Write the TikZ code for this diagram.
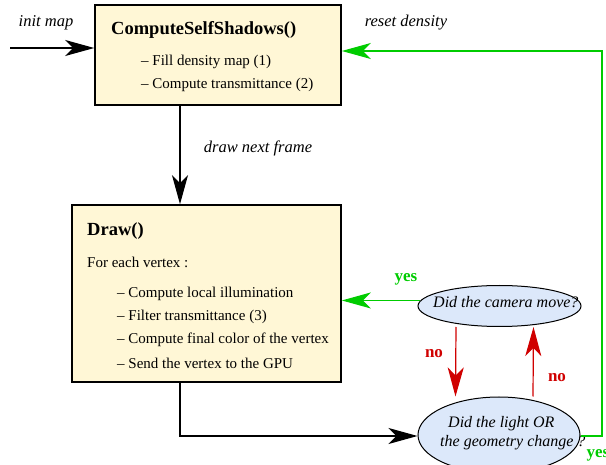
\documentclass[tikz,border=0pt]{standalone}
\usepackage{fontspec}
\setmainfont{Liberation Serif}
\usetikzlibrary{arrows.meta,shapes.geometric}
\definecolor{boxfill}{HTML}{FFF7D6}
\definecolor{ellfill}{HTML}{DCE8FA}
\definecolor{grn}{HTML}{00CC00}
\definecolor{rd}{HTML}{D00000}
\tikzset{
  x=1pt,y=-1pt,
  procbox/.style={draw=black,line width=1.6pt,fill=boxfill,inner sep=0pt},
  question/.style={draw=black,line width=1pt,fill=ellfill,ellipse,inner sep=0pt},
  qtext/.style={anchor=west,inner sep=0pt,font=\fontsize{16}{19}\selectfont\itshape},
  bigarrow/.style={-{Stealth[length=29pt,width=16pt,inset=8pt]},line width=1.2pt},
  lbl/.style={inner sep=0pt,font=\fontsize{16.5}{19}\selectfont\itshape},
  ans/.style={inner sep=0pt,font=\fontsize{17}{20}\selectfont\bfseries},
  body/.style={anchor=west,inner sep=0pt,font=\fontsize{15}{18}\selectfont},
  title/.style={anchor=west,inner sep=0pt,font=\fontsize{18.5}{22}\selectfont\bfseries},
}
\begin{document}
\begin{tikzpicture}
\useasboundingbox (0,0) rectangle (606,465);
\clip (0,0) rectangle (606,465);
% boxes
\node[procbox,minimum width=246pt,minimum height=100pt] (css) at (218,55) {};
\node[title] (csst) at (111,30) {ComputeSelfShadows()};
\node[body] (css1) at (141,62) {– Fill density map (1)};
\node[body] (css2) at (141,85) {– Compute transmittance (2)};

\node[procbox,minimum width=269pt,minimum height=177pt] (draw) at (206.5,293.5) {};
\node[title] (drawt) at (87,231) {Draw()};
\node[body] (d0) at (87,262) {For each vertex :};
\node[body] (d1) at (117,294) {– Compute local illumination};
\node[body] (d2) at (117,317) {– Filter transmittance (3)};
\node[body] (d3) at (117,340) {– Compute final color of the vertex};
\node[body] (d4) at (117,363) {– Send the vertex to the GPU};

% ellipses
\node[question,minimum width=163pt,minimum height=41pt] (cam) at (499.5,306) {};
\node[qtext] (camt) at (433,302) {Did the camera move?};
\node[question,minimum width=162pt,minimum height=76pt] (light) at (499,435) {};
\node[qtext] (lt1) at (448,424) {Did the light OR};
\node[qtext] (lt2) at (440,443) {the geometry change ?};

% coordinates
\coordinate (start) at (10,48);
\coordinate (corner1) at (180,436);
\coordinate (g1) at (602,436);
\coordinate (g2) at (602,51);

% connectors
\draw[bigarrow] (start) -- (css.west |- start);
\draw[bigarrow] (css.south -| corner1) -- (draw.north -| corner1);
\draw[bigarrow] (draw.south -| corner1) -- (corner1) -- (light.west |- corner1);
\draw[bigarrow,grn] (light.east |- g1) -- (g1) -- (g2) -- (css.east |- g2);
\draw[bigarrow,grn] (cam.176) -- (draw.east |- cam.176);
\draw[bigarrow,rd] ([xshift=-43.5pt]cam.south) -- ([xshift=-43.5pt]light.north);
\draw[bigarrow,rd] ([xshift=34pt]light.north) -- ([xshift=34pt]cam.south);

% labels
\node[lbl] at (46,23) {init map};
\node[lbl] at (258,148) {draw next frame};
\node[lbl] at (406,23) {reset density};
\node[ans,grn] at (406,279) {yes};
\node[ans,rd] at (434,354) {no};
\node[ans,rd] at (557,378) {no};
\node[ans,grn] at (598,455) {yes};
\end{tikzpicture}
\end{document}
